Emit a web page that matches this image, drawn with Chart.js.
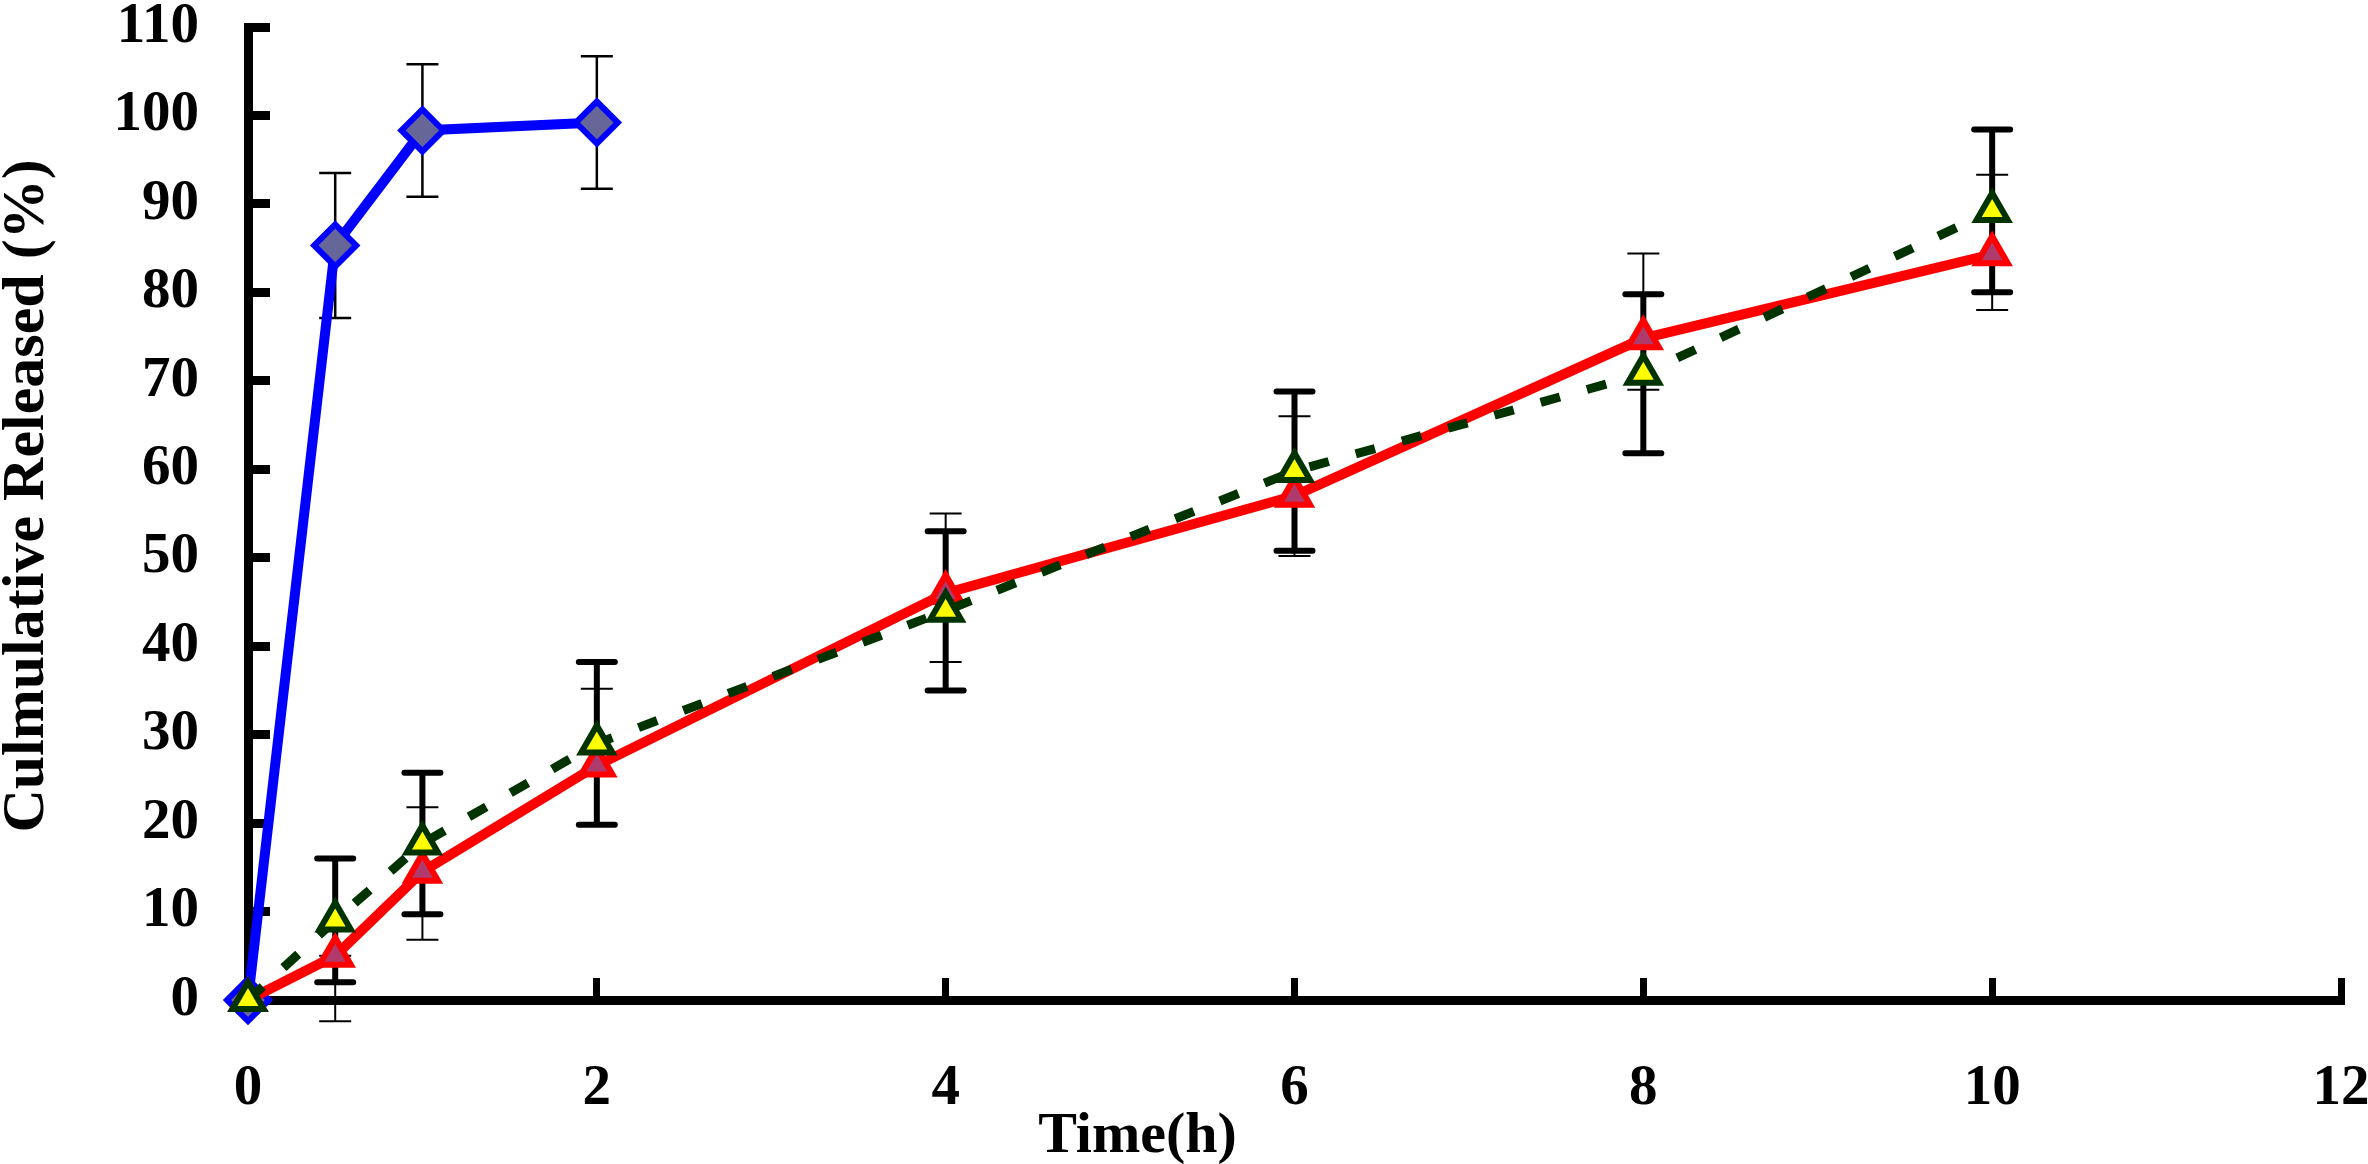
<!DOCTYPE html>
<html>
<head>
<meta charset="utf-8">
<title>Cumulative release</title>
<script src="https://cdn.jsdelivr.net/npm/chart.js"></script>
<style>
    body { margin: 0; background: #fff; overflow: hidden; }
    #wrap { width: 2368px; height: 1164px; }
</style>
</head>
<body>
<div id="wrap"><canvas id="releaseChart"></canvas></div>
<script>
const time = [0, 0.5, 1, 2, 4, 6, 8, 10];
const blueRelease = [0, 85.3, 98.3, 99.2, null, null, null, null];
const blueErr = [0, 8.2, 7.5, 7.5, null, null, null, null];
const redRelease = [0, 5, 14.5, 26.5, 46, 57, 74.8, 84.3];
const redErrUp = [0, 0, 7.3, 8.7, 9, 9, 9.6, 9];
const redErrDown = [0, 7.4, 7.7, 6.7, 7.8, 6.8, 5.8, 6.3];
const yellowRelease = [0, 9, 17.7, 29, 44, 59.8, 70.8, 89.2];
const yellowErr = [0, 7, 8, 9.2, 9, 9, 9, 9.2];

const xTitle = "Time(h)";
const yTitle = "Culmulative Released (%)";
const fontName = '"Liberation Serif", "Times New Roman", serif';

function points(values){
    let out = [];
    for (let i = 0; i < time.length; i++){
        if (values[i] !== null) out.push({x: time[i], y: values[i]});
    }
    return out;
}

function drawBars(ctx, xs, ys, values, up, down, width, cap){
    ctx.save();
    ctx.strokeStyle = "#000";
    ctx.lineWidth = width;
    ctx.lineCap = width > 3 ? "round" : "butt";
    for (let i = 0; i < time.length; i++){
        if (values[i] === null || (!up[i] && !down[i])) continue;
        let px = xs.getPixelForValue(time[i]);
        let top = ys.getPixelForValue(values[i] + up[i]);
        let bot = ys.getPixelForValue(values[i] - down[i]);
        ctx.beginPath();
        ctx.moveTo(px, top);
        ctx.lineTo(px, bot);
        ctx.moveTo(px - cap, top);
        ctx.lineTo(px + cap, top);
        ctx.moveTo(px - cap, bot);
        ctx.lineTo(px + cap, bot);
        ctx.stroke();
    }
    ctx.restore();
}

const errorBars = {
    id: "errorBars",
    beforeDatasetsDraw(chart){
        let xs = chart.scales.x;
        let ys = chart.scales.y;
        drawBars(chart.ctx, xs, ys, blueRelease, blueErr, blueErr, 2.5, 16);
        drawBars(chart.ctx, xs, ys, redRelease, redErrUp, redErrDown, 2, 16);
        drawBars(chart.ctx, xs, ys, yellowRelease, yellowErr, yellowErr, 6, 18);
    }
};

// axis titles sit a little off-centre in the original, so draw them by hand
const axisTitles = {
    id: "axisTitles",
    afterDraw(chart){
        let ctx = chart.ctx;
        ctx.save();
        ctx.fillStyle = "#000";
        ctx.textAlign = "center";
        ctx.textBaseline = "alphabetic";
        ctx.font = "bold 58px " + fontName;
        ctx.fillText(xTitle, chart.scales.x.getPixelForValue(5.1), 1152);
        ctx.font = "bold 60px " + fontName;
        ctx.translate(43, 496);
        ctx.rotate(-Math.PI / 2);
        ctx.fillText(yTitle, 0, 0);
        ctx.restore();
    }
};

new Chart("releaseChart", {
    type: "line",
    data: {
        datasets: [{
            data: points(yellowRelease),
            borderColor: "#003300",
            borderWidth: 9,
            borderDash: [20, 28],
            pointStyle: "triangle",
            pointRadius: 18,
            pointBackgroundColor: "#ffff00",
            pointBorderColor: "#003300",
            pointBorderWidth: 6,
            tension: 0,
            clip: false,
            order: 0
        }, {
            data: points(redRelease),
            borderColor: "#ff0000",
            borderWidth: 10,
            pointStyle: "triangle",
            pointRadius: 18,
            pointBackgroundColor: "#b03a6b",
            pointBorderColor: "#ff0000",
            pointBorderWidth: 6,
            tension: 0,
            clip: false,
            order: 1
        }, {
            data: points(blueRelease),
            borderColor: "#0000ff",
            borderWidth: 10,
            pointStyle: "rectRot",
            pointRadius: 21,
            pointBackgroundColor: "#666699",
            pointBorderColor: "#0000ff",
            pointBorderWidth: 6,
            tension: 0,
            clip: false,
            order: 2
        }]
    },
    options: {
        responsive: true,
        maintainAspectRatio: false,
        devicePixelRatio: 1,
        animation: false,
        events: [],
        layout: { padding: { top: 15, right: 24, left: 0, bottom: 0 } },
        plugins: {
            legend: { display: false },
            tooltip: { enabled: false }
        },
        scales: {
            x: {
                type: "linear",
                min: 0,
                max: 12,
                grid: { drawOnChartArea: false, drawTicks: true, tickLength: -22, tickWidth: 7, tickColor: "#000" },
                border: { display: true, color: "#000", width: 9 },
                ticks: { stepSize: 2, padding: 77, color: "#000", maxRotation: 0, font: { family: fontName, size: 57, weight: "bold" } },
                afterFit(s){ s.height = 164; s.paddingLeft = 0; s.paddingRight = 0; }
            },
            y: {
                min: 0,
                max: 110,
                grid: { drawOnChartArea: false, drawTicks: true, tickLength: -22, tickWidth: 9, tickColor: "#000" },
                border: { display: true, color: "#000", width: 9 },
                ticks: { stepSize: 10, padding: 71, color: "#000", font: { family: fontName, size: 57, weight: "bold" } },
                afterFit(s){ s.width = 248; s.paddingTop = 0; s.paddingBottom = 0; }
            }
        }
    },
    plugins: [errorBars, axisTitles]
});
</script>
</body>
</html>
